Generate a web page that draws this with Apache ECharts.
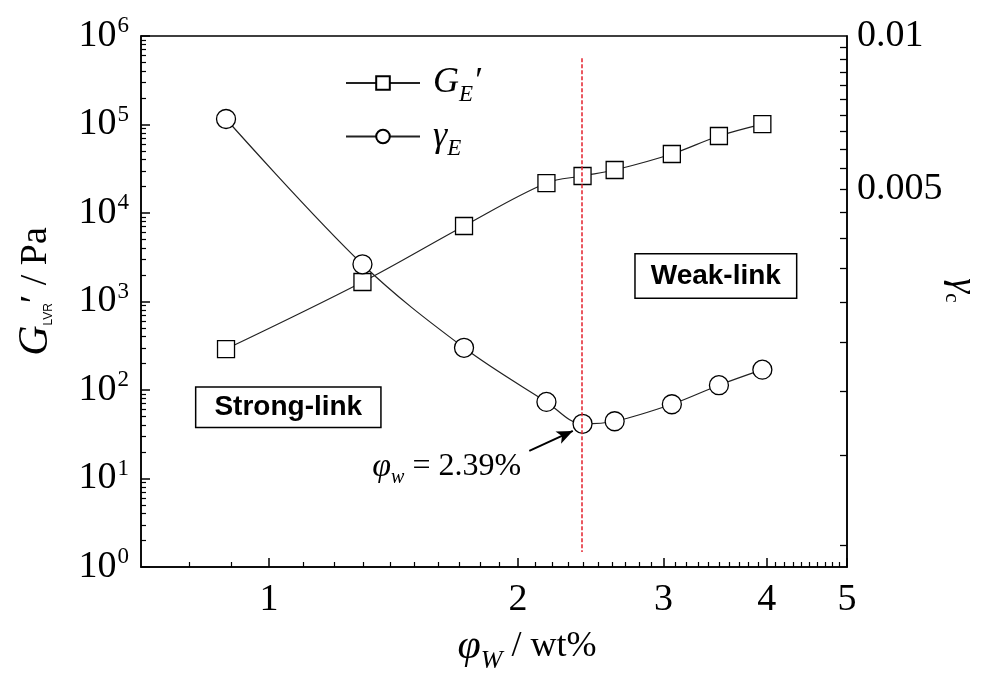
<!DOCTYPE html>
<html><head><meta charset="utf-8">
<script src="https://cdn.jsdelivr.net/npm/echarts@6/dist/echarts.min.js"></script>
<style>html,body{margin:0;padding:0;background:#fff}#c{width:984px;height:675px}</style>
</head><body><div id="c"></div>
<script>
// ---- data ----
const phiW = [0.887, 1.297, 1.721, 2.165, 2.394, 2.618, 3.07, 3.50, 3.95];
const G_E = [290, 1660, 7130, 21800, 26200, 30600, 46400, 74100, 101000];
const gamma_E = [0.00687, 0.00356, 0.00244, 0.00191, 0.00173, 0.00175, 0.00189, 0.00206, 0.00221];
const xTickLabels = [1, 2, 3, 4, 5];
const yLeftTicks = [1, 10, 100, 1000, 10000, 100000, 1000000];
const yRightLabels = [0.005, 0.01];
const yRightTicks = [0.001, 0.0015, 0.002, 0.0025, 0.003, 0.0035, 0.004, 0.0045, 0.005,
  0.0055, 0.006, 0.0065, 0.007, 0.0075, 0.008, 0.0085, 0.009, 0.0095];
const phiCritical = 2.39;

// minor ticks
const xMinor = [0.8, 0.9];
for (let d = 1; d <= 4; d++) for (let k = 1; k <= 9; k++) xMinor.push(+(d + k / 10).toFixed(2));
const yMinor = [];
for (let e = 0; e < 6; e++) for (let k = 2; k <= 9; k++) yMinor.push(k * Math.pow(10, e));

const SERIF = 'Liberation Serif';
const SANS = 'Liberation Sans';
const black = '#000';

const chart = echarts.init(document.getElementById('c'), null, {renderer: 'canvas'});
const rightTickAxes = yRightTicks.map(v => ({
  type: 'log', min: 0.000905, max: 0.01, position: 'right', offset: 0,
  axisLine: {show: false},
  axisTick: {show: true, inside: true, length: 7, interval: 0, customValues: [v], lineStyle: {color: black, width: 1.3}},
  axisLabel: {show: false}, splitLine: {show: false}
}));
const option = {
  animation: false,
  backgroundColor: '#fff',
  grid: {left: 141, right: 137, top: 36, bottom: 108, outerBoundsMode: 'none', containLabel: false,
    show: true, borderColor: black, borderWidth: 1.5, backgroundColor: 'transparent'},
  legend: {
    left: 340, top: 60, orient: 'vertical', itemGap: 12, itemWidth: 74, itemHeight: 17,
    data: ['GE', 'gE'],
    formatter: n => n === 'GE' ? '{i|G}{s|E}{i|′}' : '{g|γ}{s|E}',
    textStyle: {
      color: black, fontFamily: SERIF, fontSize: 34, padding: [0, 0, 0, 8],
      rich: {
        i: {fontFamily: SERIF, fontStyle: 'italic', fontSize: 36, color: black},
        g: {fontFamily: SERIF, fontStyle: 'italic', fontSize: 36, color: black},
        s: {fontFamily: SERIF, fontStyle: 'italic', fontSize: 23, color: black, padding: [24, 0, 0, 0]}
      }
    }
  },
  xAxis: [{
    type: 'log', min: 0.7, max: 5, position: 'bottom',
    name: '{i|φ}{s|W}{n| / wt%}', nameLocation: 'middle', nameGap: 53,
    nameTextStyle: {color: black, fontFamily: SERIF, fontSize: 36, padding: [0, 0, 0, 66],
      rich: {
        i: {fontFamily: SERIF, fontStyle: 'italic', fontSize: 42, color: black},
        s: {fontFamily: SERIF, fontStyle: 'italic', fontSize: 26, color: black, padding: [28, 0, 0, 0]},
        n: {fontFamily: SERIF, fontSize: 36, color: black}
      }},
    axisLine: {show: true, lineStyle: {color: black, width: 1.5}},
    axisTick: {show: true, inside: true, length: 9, interval: 0, customValues: xTickLabels, lineStyle: {color: black, width: 1.5}},
    axisLabel: {show: true, interval: 0, customValues: xTickLabels, color: black, fontFamily: SERIF, fontSize: 38, margin: 14},
    splitLine: {show: false}, minorTick: {show: false}
  }, {
    type: 'log', min: 0.7, max: 5, position: 'bottom',
    axisLine: {show: false},
    axisTick: {show: true, inside: true, length: 5, interval: 0, customValues: xMinor, lineStyle: {color: black, width: 1.2}},
    axisLabel: {show: false}, splitLine: {show: false}
  }],
  yAxis: [{
    type: 'log', min: 1, max: 1000000, position: 'left',
    name: '{i|G}{sub|LVR}{n|′ / Pa}', nameLocation: 'middle', nameGap: 84, nameRotate: 90,
    nameTextStyle: {color: black, fontFamily: SERIF, fontSize: 38, padding: [0, 0, 0, 20],
      rich: {
        i: {fontFamily: SERIF, fontStyle: 'italic', fontSize: 42, color: black},
        sub: {fontFamily: SANS, fontSize: 12, color: black, padding: [26, 0, 0, 0]},
        n: {fontFamily: SERIF, fontSize: 38, color: black}
      }},
    axisLine: {show: true, lineStyle: {color: black, width: 1.5}},
    axisTick: {show: true, inside: true, length: 9, interval: 0, customValues: yLeftTicks, lineStyle: {color: black, width: 1.5}},
    axisLabel: {show: true, interval: 0, customValues: yLeftTicks, margin: 12,
      formatter: v => '{b|10}{p|' + Math.round(Math.log10(v)) + '}',
      rich: {
        b: {fontFamily: SERIF, fontSize: 38, color: black},
        p: {fontFamily: SERIF, fontSize: 23, color: black, padding: [0, 0, 20, 1]}
      }},
    splitLine: {show: false}
  }, {
    type: 'log', min: 0.000905, max: 0.01, position: 'right',
    name: '{g|γ}{s|c}', nameLocation: 'middle', nameGap: 94, nameRotate: -90, nameMoveOverlap: false,
    nameTextStyle: {color: black, padding: [0, 22, 0, 0],
      rich: {
        g: {fontFamily: SERIF, fontStyle: 'italic', fontSize: 38, color: black},
        s: {fontFamily: SERIF, fontSize: 21, color: black, padding: [20, 0, 0, 0]}
      }},
    axisLine: {show: true, lineStyle: {color: black, width: 1.5}},
    axisTick: {show: false},
    axisLabel: {show: true, interval: 0, customValues: yRightLabels, color: black, fontFamily: SERIF, fontSize: 38, margin: 10,
      formatter: v => String(v)},
    splitLine: {show: false}
  }, {
    type: 'log', min: 1, max: 1000000, position: 'left',
    axisLine: {show: false},
    axisTick: {show: true, inside: true, length: 5, interval: 0, customValues: yMinor, lineStyle: {color: black, width: 1.2}},
    axisLabel: {show: false}, splitLine: {show: false}
  }].concat(rightTickAxes),
  series: [{
    name: 'GE', type: 'line', xAxisIndex: 0, yAxisIndex: 0, smooth: 0.35,
    data: phiW.map((x, i) => [x, G_E[i]]),
    symbol: 'rect', symbolSize: 17,
    itemStyle: {color: '#fff', borderColor: black, borderWidth: 1.3},
    lineStyle: {color: '#222', width: 1.2}, z: 3
  }, {
    name: 'gE', type: 'line', xAxisIndex: 0, yAxisIndex: 1, smooth: 0.35,
    data: phiW.map((x, i) => [x, gamma_E[i]]),
    symbol: 'circle', symbolSize: 19,
    itemStyle: {color: '#fff', borderColor: black, borderWidth: 1.3},
    lineStyle: {color: '#222', width: 1.2}, z: 3
  }, {
    name: 'annot', type: 'line', xAxisIndex: 0, yAxisIndex: 0, data: [], z: 6,
    markLine: {
      silent: true, symbol: ['none', 'none'], animation: false,
      label: {show: false},
      data: [
        [{coord: [phiCritical, 5.6e5], lineStyle: {color: '#e3202c', type: [4, 2], width: 1.5}},
         {coord: [phiCritical, 1.48]}],
        [{coord: [2.064, 20.5], lineStyle: {color: black, type: 'solid', width: 2}},
         {coord: [2.33, 34.5], symbol: 'arrow', symbolSize: [10, 16]}]
      ]
    },
    markPoint: {
      silent: true, animation: false,
      symbol: 'circle', symbolSize: 1, itemStyle: {color: 'rgba(0,0,0,0)'},
      data: [
        {coord: [1.055, 64], label: {show: true, position: 'inside', formatter: 'Strong-link',
          fontFamily: SANS, fontWeight: 'bold', fontSize: 28, color: black,
          backgroundColor: '#fff', borderColor: black, borderWidth: 1.5, padding: [6, 18, 5, 18]}},
        {coord: [3.47, 1940], label: {show: true, position: 'inside', formatter: 'Weak-link',
          fontFamily: SANS, fontWeight: 'bold', fontSize: 28, color: black,
          backgroundColor: '#fff', borderColor: black, borderWidth: 1.5, padding: [8, 15, 7, 15]}},
        {coord: [1.64, 13.5], label: {show: true, position: 'inside', formatter: '{i|φ}{s|w}{n| = 2.39%}',
          rich: {
            i: {fontFamily: SERIF, fontStyle: 'italic', fontSize: 34, color: black},
            s: {fontFamily: SERIF, fontStyle: 'italic', fontSize: 20, color: black, padding: [22, 0, 0, 0]},
            n: {fontFamily: SERIF, fontSize: 32, color: black}
          }}}
      ]
    }
  }]
};
chart.setOption(option);
</script></body></html>
